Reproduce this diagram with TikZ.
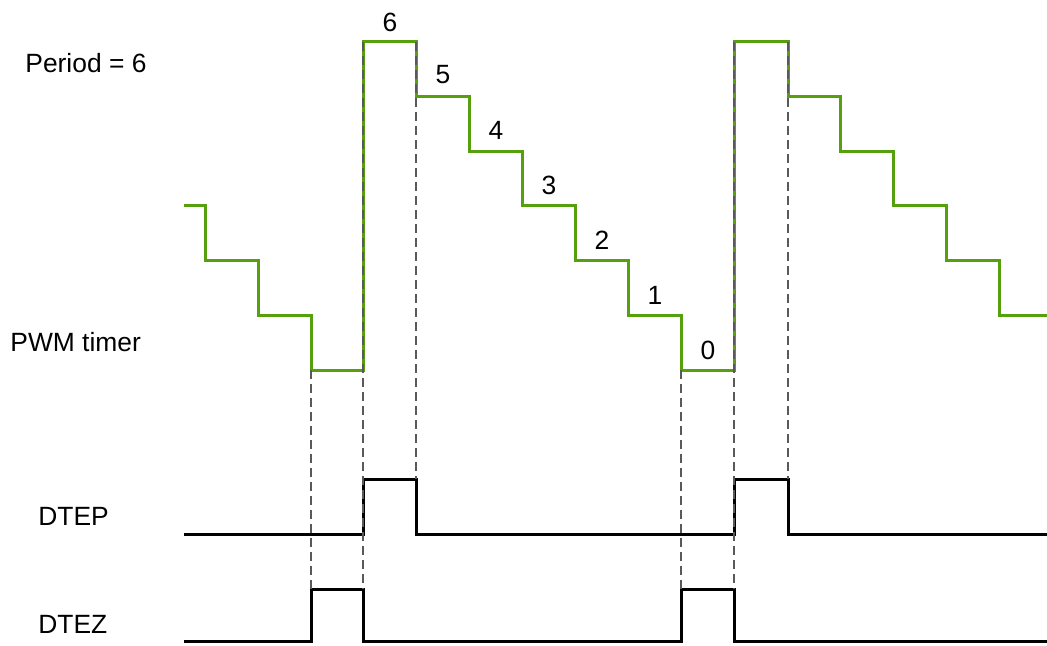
\documentclass[tikz,border=0pt]{standalone}
\usepackage{fontspec}
\setmainfont{Liberation Sans}
\usepackage{xcolor}
\usetikzlibrary{positioning}

\definecolor{timergreen}{RGB}{86,160,14}

\begin{document}
\begin{tikzpicture}[
    x=0.5pt, y=-0.5pt,
    lbl/.style={font=\fontsize{13.2}{15}\selectfont, inner sep=0pt},
    cnt/.style={font=\fontsize{13.2}{15}\selectfont, inner sep=0pt},
    timer/.style={draw=timergreen, line width=1.5pt},
    sig/.style={draw=black, line width=1.5pt},
    guide/.style={draw=black!65, line width=0.6pt, dash pattern=on 4.5pt off 2.5pt}
]
    \useasboundingbox (0,0) rectangle (1047,646);

    % Row labels
    \node[lbl, anchor=west] (period) at (25,63) {Period = 6};
    \node[lbl, anchor=west] (pwm) at (10,342) {PWM timer};
    \node[lbl, anchor=west] (dtep) at (38,516) {DTEP};
    \node[lbl, anchor=west] (dtez) at (38,624) {DTEZ};

    % Timer counter (staircase)
    \draw[timer] (184,206) -- (205,206) -- (205,261) -- (258,261) -- (258,315)
        -- (311,315) -- (311,370) -- (363,370) -- (363,42) -- (416,42)
        -- (416,97) -- (469,97) -- (469,152) -- (522,152) -- (522,206)
        -- (575,206) -- (575,261) -- (628,261) -- (628,315) -- (681,315)
        -- (681,370) -- (734,370) -- (734,42) -- (788,42) -- (788,97)
        -- (840,97) -- (840,152) -- (893,152) -- (893,206) -- (946,206)
        -- (946,261) -- (999,261) -- (999,315) -- (1047,315);

    % Counter values
    \node[cnt] (c6) at (390,22) {6};
    \node[cnt] (c5) at (443,75) {5};
    \node[cnt] (c4) at (496,130) {4};
    \node[cnt] (c3) at (549,185) {3};
    \node[cnt] (c2) at (602,240) {2};
    \node[cnt] (c1) at (655,295) {1};
    \node[cnt] (c0) at (708,350) {0};

    % DTEP
    \draw[sig] (184,534) -- (363,534) -- (363,479) -- (416,479) -- (416,534)
        -- (734,534) -- (734,479) -- (788,479) -- (788,534) -- (1047,534);

    % DTEZ
    \draw[sig] (184,641) -- (311,641) -- (311,589) -- (363,589) -- (363,641)
        -- (681,641) -- (681,589) -- (734,589) -- (734,641) -- (1047,641);

    % Guides
    \draw[guide] (311,370) -- (311,589);
    \draw[guide] (363,42) -- (363,589);
    \draw[guide] (416,42) -- (416,479);
    \draw[guide] (681,370) -- (681,589);
    \draw[guide] (734,42) -- (734,589);
    \draw[guide] (788,42) -- (788,479);
\end{tikzpicture}
\end{document}
